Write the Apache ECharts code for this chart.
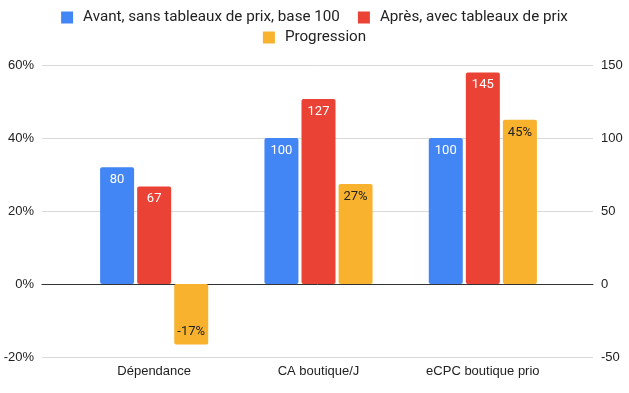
<!DOCTYPE html>
<html><head><meta charset="utf-8">
<script src="https://cdn.jsdelivr.net/npm/echarts@6/dist/echarts.min.js"></script>
<style>html,body{margin:0;padding:0;background:#fff}#c{width:629px;height:393px}</style>
</head><body><div id="c"></div>
<script>
const categories = ['Dépendance', 'CA boutique/J', 'eCPC boutique prio'];
const avant = [80, 100, 100];
const apres = [66.7, 126.7, 144.8];
const progression = [-16.6, 27.4, 45];
const leftTicks = [-20, 0, 20, 40, 60];
const rightTicks = [-50, 0, 50, 100, 150];
const seriesNames = ['Avant, sans tableaux de prix, base 100', 'Après, avec tableaux de prix', 'Progression'];

const chart = echarts.init(document.getElementById('c'));
const axisFont = {fontFamily: 'Liberation Sans, Arial, sans-serif', fontSize: 13, color: '#222'};
const legendText = {fontFamily: 'Roboto, sans-serif', fontSize: 15.2, color: '#222', padding: [0,0,0,5]};
const gTop = 65, gBottom = 393 - 357;
const labelBase = {show: true, distance: 6, fontFamily: 'Roboto, sans-serif', fontSize: 13};
chart.setOption({
  animation: false,
  legend: [
    {top: 10, left: 'center', itemWidth: 12, itemHeight: 12, itemGap: 18, icon: 'rect', padding: 0,
     textStyle: legendText, data: seriesNames.slice(0, 2)},
    {top: 30, left: 'center', itemWidth: 12, itemHeight: 12, itemGap: 18, icon: 'rect', padding: 0,
     textStyle: legendText, data: seriesNames.slice(2)}
  ],
  grid: [
    {left: 42, right: 629 - 593, top: gTop, bottom: gBottom},
    {left: 72, right: 629 - 565, top: gTop, bottom: gBottom}
  ],
  xAxis: [
    {type: 'category', gridIndex: 0, data: categories, axisLabel: {show: false}, axisTick: {show: false},
     axisLine: {show: true, onZero: true, lineStyle: {color: '#333', width: 1}}},
    {type: 'category', gridIndex: 1, data: categories, axisTick: {show: false},
     axisLine: {show: false, onZero: false},
     axisLabel: Object.assign({margin: 8}, axisFont)}
  ],
  yAxis: [
    {type: 'value', gridIndex: 0, position: 'left', min: leftTicks[0], max: leftTicks[leftTicks.length-1], interval: 20,
     axisLabel: Object.assign({formatter: v => v + '%', margin: 8}, axisFont),
     axisLine: {show: false}, axisTick: {show: false},
     splitLine: {lineStyle: {color: '#d9d9d9'}}},
    {type: 'value', gridIndex: 0, position: 'right', min: rightTicks[0], max: rightTicks[rightTicks.length-1], interval: 50,
     axisLabel: Object.assign({margin: 8}, axisFont),
     axisLine: {show: false}, axisTick: {show: false}, splitLine: {show: false}},
    {type: 'value', gridIndex: 1, min: -20, max: 60, interval: 20, show: false},
    {type: 'value', gridIndex: 1, min: -50, max: 150, interval: 50, show: false}
  ],
  series: [
    {name: seriesNames[0], type: 'bar', xAxisIndex: 1, yAxisIndex: 3, data: avant, barWidth: 34, barGap: '9%',
     itemStyle: {color: '#4285F4', borderRadius: 2},
     label: Object.assign({position: 'insideTop', color: '#fff', formatter: p => Math.round(p.value)}, labelBase)},
    {name: seriesNames[1], type: 'bar', xAxisIndex: 1, yAxisIndex: 3, data: apres, barWidth: 34, barGap: '9%',
     itemStyle: {color: '#EA4335', borderRadius: 2},
     label: Object.assign({position: 'insideTop', color: '#fff', formatter: p => Math.round(p.value)}, labelBase)},
    {name: seriesNames[2], type: 'bar', xAxisIndex: 1, yAxisIndex: 2,
     data: progression.map(v => v < 0 ? {value: v, label: {position: 'insideBottom'}} : v),
     barWidth: 34, barGap: '9%',
     itemStyle: {color: '#F8B22E', borderRadius: 2},
     label: Object.assign({position: 'insideTop', color: '#222', formatter: p => Math.round(p.value) + '%'}, labelBase)}
  ]
});
</script></body></html>
